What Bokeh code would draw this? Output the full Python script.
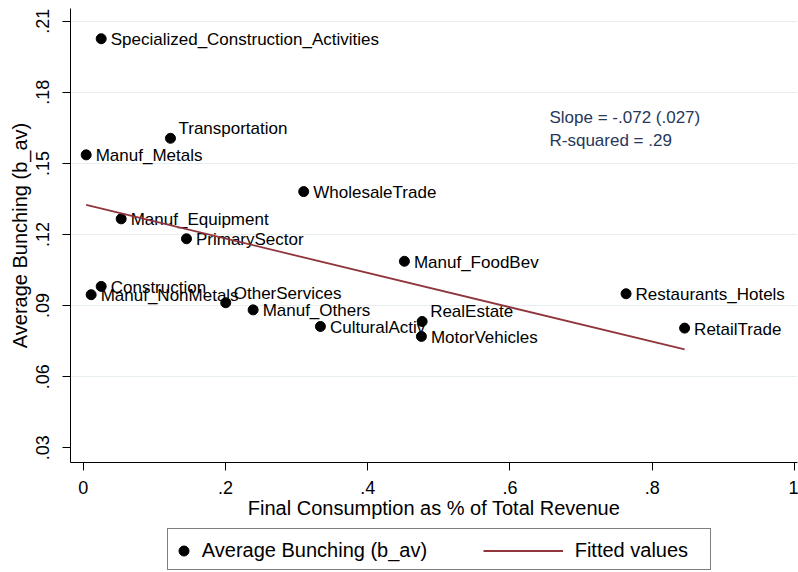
from bokeh.plotting import figure
from bokeh.layouts import column
from bokeh.models import (ColumnDataSource, Range1d, FixedTicker, Legend,
                          LegendItem, Label)
from bokeh.core.properties import value
from bokeh.embed import file_html
from bokeh.resources import INLINE

# ---------------- data ----------------
sectors = ["Specialized_Construction_Activities", "Transportation", "Manuf_Metals",
           "WholesaleTrade", "Manuf_Equipment", "PrimarySector", "Manuf_FoodBev",
           "Construction", "Manuf_NonMetals", "OtherServices", "Manuf_Others",
           "CulturalActiv", "RealEstate", "MotorVehicles", "Restaurants_Hotels",
           "RetailTrade"]
final_consumption = [0.0253, 0.1227, 0.0042, 0.3100, 0.0534, 0.1452, 0.4516,
                     0.0253, 0.0112, 0.2004, 0.2389, 0.3335, 0.4765, 0.4755,
                     0.7632, 0.8455]
avg_bunching = [0.2026, 0.1606, 0.1536, 0.1381, 0.1266, 0.1182, 0.1087,
                0.0981, 0.0946, 0.0912, 0.0882, 0.0812, 0.0833, 0.0770,
                0.0950, 0.0805]
label_clock = [3, 2, 3, 3, 3, 3, 3, 3, 3, 2, 3, 3, 2, 3, 3, 3]

fit_x = [0.0042, 0.8455]
fit_y = [0.1325, 0.0715]

x_ticks = [0, 0.2, 0.4, 0.6, 0.8, 1]
x_tick_labels = ["0", ".2", ".4", ".6", ".8", "1"]
y_ticks = [0.03, 0.06, 0.09, 0.12, 0.15, 0.18, 0.21]
y_tick_labels = [".03", ".06", ".09", ".12", ".15", ".18", ".21"]

annotation_lines = ["Slope = -.072 (.027)", "R-squared = .29"]
legend_labels = ["Average Bunching (b_av)", "Fitted values"]
x_title = "Final Consumption as % of Total Revenue"
y_title = "Average Bunching (b_av)"

# ---------------- styling ----------------
FONT = "Liberation Sans"
MAROON = "#90353b"
ANNOT = "#26375a"
GRID = "#e6eef0"

clock_offsets = {3: (9.5, 1.0), 2: (8.0, -9.5)}
dx = [clock_offsets[c][0] for c in label_clock]
dy = [clock_offsets[c][1] for c in label_clock]

src = ColumnDataSource(dict(x=final_consumption, y=avg_bunching, name=sectors,
                            dx=dx, dy=dy))
fit_src = ColumnDataSource(dict(x=fit_x, y=fit_y))

p = figure(width=798, height=528, output_backend="svg", toolbar_location=None,
           title=None,
           x_range=Range1d(-0.01785, 1.00422), y_range=Range1d(0.0238, 0.21536),
           min_border_left=70, min_border_right=1, min_border_top=8,
           min_border_bottom=66)
p.outline_line_color = None
p.background_fill_color = "white"
p.border_fill_color = "white"

p.xgrid.visible = False
p.ygrid.ticker = FixedTicker(ticks=y_ticks[1:])
p.ygrid.grid_line_color = GRID
p.ygrid.grid_line_width = 1

for ax in (p.xaxis[0], p.yaxis[0]):
    ax.axis_line_color = "black"
    ax.axis_line_width = 1
    ax.major_tick_line_color = "black"
    ax.major_tick_out = 8
    ax.major_tick_in = 0
    ax.minor_tick_out = 0
    ax.minor_tick_in = 0
    ax.major_label_text_font = FONT
    ax.major_label_text_font_size = "18px"
    ax.major_label_text_color = "black"
    ax.axis_label_text_font = FONT
    ax.axis_label_text_font_size = "20px"
    ax.axis_label_text_font_style = "normal"
    ax.axis_label_text_color = "black"

p.xaxis.ticker = FixedTicker(ticks=x_ticks)
p.xaxis.major_label_overrides = dict(zip(x_ticks, x_tick_labels))
p.xaxis.axis_label = x_title
p.xaxis.major_label_standoff = 10
p.xaxis.axis_label_standoff = 0

p.yaxis.ticker = FixedTicker(ticks=y_ticks)
p.yaxis.major_label_overrides = dict(zip(y_ticks, y_tick_labels))
p.yaxis.axis_label = y_title
p.yaxis.major_label_orientation = "vertical"
p.yaxis.major_label_standoff = 13
p.yaxis.axis_label_standoff = 3

# ---------------- glyphs ----------------
pts = p.scatter("x", "y", source=src, size=10, color="black")
p.text("x", "y", text="name", source=src, x_offset="dx", y_offset="dy",
       text_font=value(FONT), text_font_size="17px", text_baseline="middle",
       text_align="left", text_color="black")
fit = p.line("x", "y", source=fit_src, color=MAROON, line_width=1.8)

# ---------------- annotation ----------------
for txt, yy in zip(annotation_lines, (345, 322)):
    p.add_layout(Label(x=479, y=yy, x_units="screen", y_units="screen", text=txt,
                       text_font=FONT, text_font_size="17px", text_color=ANNOT,
                       text_baseline="middle"))

# ---------------- legend (separate strip below, frame aligned with plot) ----
lf = figure(width=798, height=44, output_backend="svg", toolbar_location=None,
            title=None, x_range=Range1d(0, 1), y_range=Range1d(0, 1),
            x_axis_location=None, y_axis_location=None,
            min_border_left=0, min_border_right=0, min_border_top=0,
            min_border_bottom=0)
lf.outline_line_color = None
lf.grid.visible = False
lf.background_fill_color = "white"
lf.border_fill_color = "white"

dummy = lf.scatter(x=[], y=[], size=0, alpha=0)
# hidden renderers that only provide the legend glyph styles
leg_pts = lf.scatter("x", "y", source=src, size=10, color="black", visible=False)
leg_fit = lf.line("x", "y", source=fit_src, color=MAROON, line_width=1.8,
                  visible=False)

box = Legend(items=[LegendItem(label=" ", renderers=[dummy])], location=(97, 2),
             orientation="horizontal", padding=0, margin=0, spacing=0,
             glyph_width=1, glyph_height=40, label_width=541, label_height=40,
             label_standoff=0, border_line_color="black", border_line_width=1,
             background_fill_color="white", background_fill_alpha=1.0)
lf.add_layout(box)

common = dict(orientation="horizontal", padding=0, margin=0, spacing=0,
              glyph_height=25, label_height=25, border_line_color=None,
              background_fill_alpha=0, inactive_fill_alpha=0,
              label_text_font=FONT, label_text_font_size="20px",
              label_text_color="black")
legA = Legend(items=[LegendItem(label=legend_labels[0], renderers=[leg_pts])],
              location=(100.8, 9.5), glyph_width=25, label_standoff=6, **common)
legB = Legend(items=[LegendItem(label=legend_labels[1], renderers=[leg_fit])],
              location=(412.7, 9.5), glyph_width=80, label_standoff=12, **common)
lf.add_layout(legA)
lf.add_layout(legB)

layout = column(p, lf, spacing=0)
open("out.html", "w").write(file_html(layout, INLINE))
